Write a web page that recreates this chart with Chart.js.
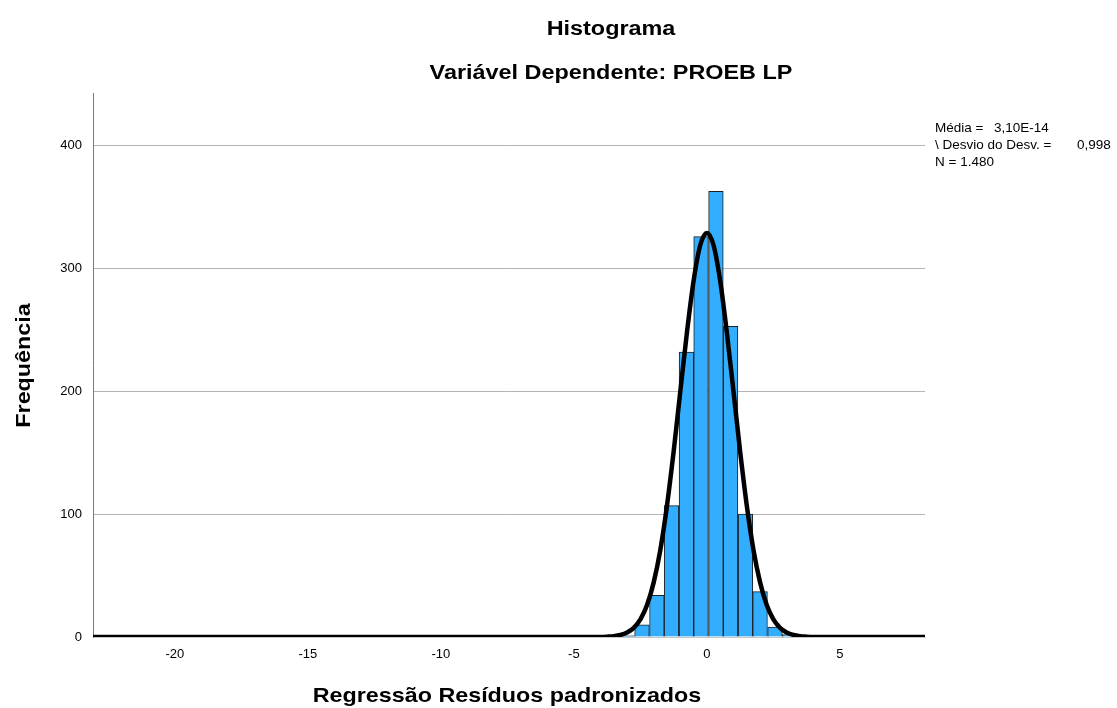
<!DOCTYPE html>
<html>
<head>
<meta charset="utf-8">
<title>Histograma</title>
<script src="https://cdn.jsdelivr.net/npm/chart.js@4.4.0/dist/chart.umd.min.js"></script>
<style>
  html, body { margin: 0; padding: 0; background: #fff; }
  #histChart { display: block; }
</style>
</head>
<body>
<canvas id="histChart" width="1117" height="708"></canvas>
<script>
/* Histograma - residuos padronizados */
const binCenters = [-2.99, -2.44, -1.88, -1.33, -0.77, -0.22, 0.34, 0.89, 1.45, 2.00, 2.56, 3.11];
const binCounts = [1, 10, 34, 107, 232, 326, 363, 253, 100, 37, 8, 2];

const curveX = [-23.08, -4, -3.75, -3.5, -3.25, -3, -2.75, -2.5, -2.25, -2, -1.75, -1.5, -1.25, -1, -0.75, -0.5, -0.25, 0,
  0.25, 0.5, 0.75, 1, 1.25, 1.5, 1.75, 2, 2.25, 2.5, 2.75, 3, 3.25, 3.5, 3.75, 4, 8.2];
const curveY = [0, 0.1, 0.3, 0.7, 1.7, 3.7, 7.5, 14.4, 26, 44.5, 71, 107, 151, 200, 248, 290, 319, 329,
  319, 290, 248, 200, 151, 107, 71, 44.5, 26, 14.4, 7.5, 3.7, 1.7, 0.7, 0.3, 0.1, 0];

const xTickValues = [-20, -15, -10, -5, 0, 5];
const yTickValues = [0, 100, 200, 300, 400];

const statLabels = ['Média =', '\\ Desvio do Desv. =', 'N = 1.480'];
const statValues = ['3,10E-14', '0,998', ''];

const FONT = "'Liberation Sans', Arial, Helvetica, sans-serif";

function drawText(ctx, text, x, y, opts) {
  ctx.save();
  ctx.translate(x, y);
  if (opts.rotate) ctx.rotate(opts.rotate);
  ctx.scale(opts.sx || 1, 1);
  ctx.font = opts.font;
  ctx.fillStyle = '#000';
  ctx.textAlign = opts.align || 'left';
  ctx.textBaseline = 'alphabetic';
  ctx.fillText(text, 0, 0);
  ctx.restore();
}

const textPlugin = {
  id: 'spssText',
  afterDraw(chart) {
    const ctx = chart.ctx;
    const area = chart.chartArea;
    const boldTitle = 'bold 20px ' + FONT;
    const boldAxis = 'bold 21px ' + FONT;
    drawText(ctx, 'Histograma', 611, 34.5, { font: boldTitle, align: 'center', sx: 1.17 });
    drawText(ctx, 'Variável Dependente: PROEB LP', 611, 78.5, { font: boldTitle, align: 'center', sx: 1.17 });
    drawText(ctx, 'Regressão Resíduos padronizados', (area.left + area.right) / 2 - 2, 702, { font: boldAxis, align: 'center', sx: 1.11 });
    drawText(ctx, 'Frequência', 30, 365.5, { font: boldAxis, align: 'center', sx: 1.11, rotate: -Math.PI / 2 });

    const statFont = '13.5px ' + FONT;
    const baselines = [132, 149, 165.5];
    const valueX = [994, 1077, 0];
    statLabels.forEach((lbl, i) => {
      drawText(ctx, lbl, 935, baselines[i], { font: statFont });
      if (statValues[i]) drawText(ctx, statValues[i], valueX[i], baselines[i], { font: statFont });
    });
  }
};

const ctx = document.getElementById('histChart');
new Chart(ctx, {
  type: 'bar',
  data: {
    datasets: [
      {
        type: 'line',
        label: 'Normal',
        data: curveX.map((x, i) => ({ x, y: curveY[i] })),
        borderColor: '#000',
        borderWidth: 4.5,
        pointRadius: 0,
        fill: false,
        cubicInterpolationMode: 'monotone',
        order: 0
      },
      {
        type: 'bar',
        label: 'Frequência',
        data: binCenters.map((x, i) => ({ x, y: binCounts[i] })),
        backgroundColor: '#33aeff',
        borderColor: '#1e1e1e',
        borderWidth: 1,
        barPercentage: 1,
        categoryPercentage: 1,
        order: 1
      }
    ]
  },
  options: {
    responsive: false,
    animation: false,
    events: [],
    layout: { padding: { left: 0, right: 192, top: 93, bottom: 0 } },
    plugins: { legend: { display: false }, tooltip: { enabled: false }, title: { display: false } },
    scales: {
      x: {
        type: 'linear',
        min: -23.08,
        max: 8.2,
        offset: false,
        afterFit(scale) { scale.height = 71; },
        afterBuildTicks(scale) { scale.ticks = xTickValues.map(v => ({ value: v })); },
        grid: { display: false, drawTicks: false, offset: false },
        border: { display: true, color: '#c8c8c8', width: 1 },
        ticks: { color: '#000', font: { family: FONT, size: 13 }, padding: 10, maxRotation: 0, autoSkip: false }
      },
      y: {
        type: 'linear',
        min: 0,
        max: 443,
        afterFit(scale) { scale.width = 93; },
        afterBuildTicks(scale) { scale.ticks = yTickValues.map(v => ({ value: v })); },
        grid: { color: '#b4b4b4', lineWidth: 1, drawTicks: false },
        border: { display: true, color: '#7a7a7a', width: 1 },
        ticks: { color: '#000', font: { family: FONT, size: 13 }, padding: 11 }
      }
    }
  },
  plugins: [textPlugin]
});
</script>
</body>
</html>
